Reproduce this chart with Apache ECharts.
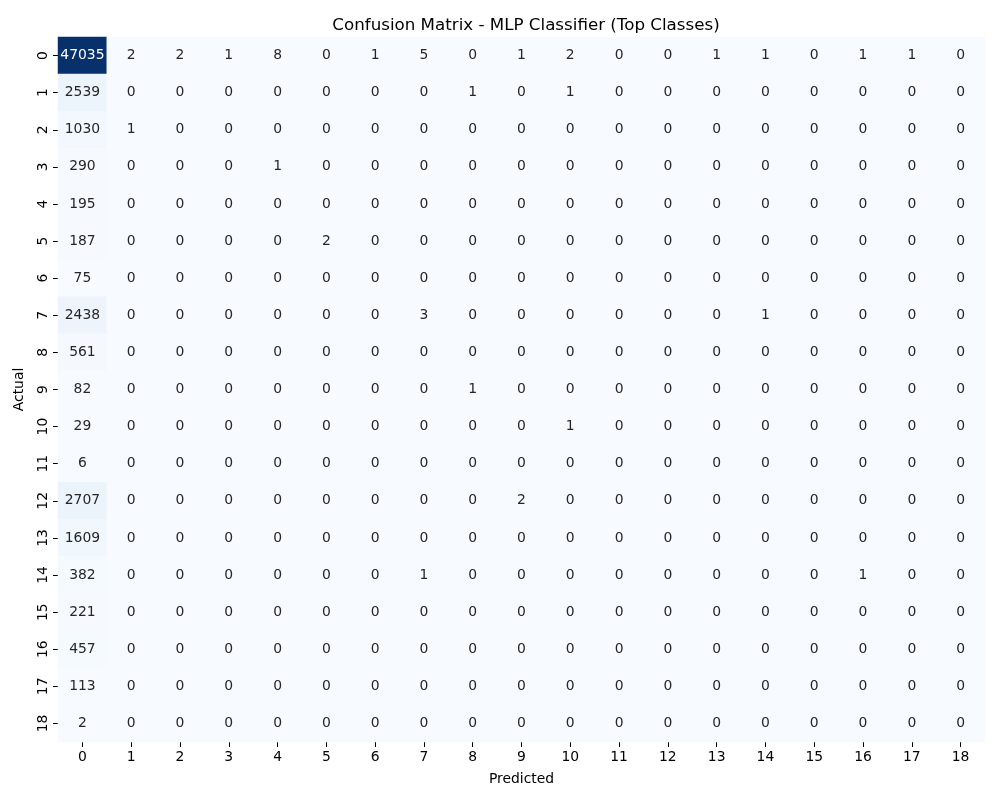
<!DOCTYPE html>
<html>
<head>
<meta charset="utf-8">
<script src="https://cdn.jsdelivr.net/npm/echarts@6/dist/echarts.min.js"></script>
<style>html,body{margin:0;padding:0;background:#fff}#c{width:1000px;height:800px}</style>
</head>
<body>
<div id="c"></div>
<script>
const predictedLabels = ['0','1','2','3','4','5','6','7','8','9','10','11','12','13','14','15','16','17','18'];
const actualLabels = ['0','1','2','3','4','5','6','7','8','9','10','11','12','13','14','15','16','17','18'];
const row0 = [47035,2,2,1,8,0,1,5,0,1,2,0,0,1,1,0,1,1,0];
const row1 = [2539,0,0,0,0,0,0,0,1,0,1,0,0,0,0,0,0,0,0];
const row2 = [1030,1,0,0,0,0,0,0,0,0,0,0,0,0,0,0,0,0,0];
const row3 = [290,0,0,0,1,0,0,0,0,0,0,0,0,0,0,0,0,0,0];
const row4 = [195,0,0,0,0,0,0,0,0,0,0,0,0,0,0,0,0,0,0];
const row5 = [187,0,0,0,0,2,0,0,0,0,0,0,0,0,0,0,0,0,0];
const row6 = [75,0,0,0,0,0,0,0,0,0,0,0,0,0,0,0,0,0,0];
const row7 = [2438,0,0,0,0,0,0,3,0,0,0,0,0,0,1,0,0,0,0];
const row8 = [561,0,0,0,0,0,0,0,0,0,0,0,0,0,0,0,0,0,0];
const row9 = [82,0,0,0,0,0,0,0,1,0,0,0,0,0,0,0,0,0,0];
const row10 = [29,0,0,0,0,0,0,0,0,0,1,0,0,0,0,0,0,0,0];
const row11 = [6,0,0,0,0,0,0,0,0,0,0,0,0,0,0,0,0,0,0];
const row12 = [2707,0,0,0,0,0,0,0,0,2,0,0,0,0,0,0,0,0,0];
const row13 = [1609,0,0,0,0,0,0,0,0,0,0,0,0,0,0,0,0,0,0];
const row14 = [382,0,0,0,0,0,0,1,0,0,0,0,0,0,0,0,1,0,0];
const row15 = [221,0,0,0,0,0,0,0,0,0,0,0,0,0,0,0,0,0,0];
const row16 = [457,0,0,0,0,0,0,0,0,0,0,0,0,0,0,0,0,0,0];
const row17 = [113,0,0,0,0,0,0,0,0,0,0,0,0,0,0,0,0,0,0];
const row18 = [2,0,0,0,0,0,0,0,0,0,0,0,0,0,0,0,0,0,0];
const matrix = [row0,row1,row2,row3,row4,row5,row6,row7,row8,row9,row10,row11,row12,row13,row14,row15,row16,row17,row18];

let maxV = 0;
matrix.forEach(r => r.forEach(v => { if (v > maxV) maxV = v; }));
const data = [];
matrix.forEach((r, yi) => r.forEach((v, xi) => {
  data.push({ value: [xi, yi, v], label: { color: v > maxV * 0.5 ? '#ffffff' : '#262626' } });
}));

const font = 'DejaVu Sans';
const chart = echarts.init(document.getElementById('c'), null, { renderer: 'canvas' });
chart.setOption({
  backgroundColor: '#ffffff',
  animation: false,
  title: {
    text: 'Confusion Matrix - MLP Classifier (Top Classes)',
    left: 521, top: 12, textAlign: 'center',
    textStyle: { fontFamily: font, fontSize: 16.7, fontWeight: 'normal', color: '#000' }
  },
  grid: { left: 58, right: 15, top: 37, bottom: 58 },
  xAxis: {
    type: 'category', data: predictedLabels, position: 'bottom',
    name: 'Predicted', nameLocation: 'middle', nameGap: 30,
    nameTextStyle: { fontFamily: font, fontSize: 13.9, color: '#000' },
    axisLine: { show: false },
    axisTick: { show: true, alignWithLabel: true, length: 5, lineStyle: { color: '#000', width: 1 } },
    axisLabel: { fontFamily: font, fontSize: 13.9, color: '#000', margin: 8 },
    splitLine: { show: false }
  },
  yAxis: {
    type: 'category', data: actualLabels, inverse: true,
    name: 'Actual', nameLocation: 'middle', nameGap: 32, nameRotate: 90,
    nameTextStyle: { fontFamily: font, fontSize: 13.9, color: '#000' },
    axisLine: { show: false },
    axisTick: { show: true, alignWithLabel: true, length: 5, lineStyle: { color: '#000', width: 1 } },
    axisLabel: { fontFamily: font, fontSize: 13.9, color: '#000', rotate: 90, margin: 8 },
    splitLine: { show: false }
  },
  visualMap: {
    show: false, min: 0, max: maxV, dimension: 2,
    inRange: { color: ['#f7fbff','#deebf7','#c6dbef','#9ecae1','#6baed6','#4292c6','#2171b5','#08519c','#08306b'] }
  },
  series: [{
    type: 'heatmap',
    data: data,
    label: { show: true, fontFamily: font, fontSize: 13.9 },
    itemStyle: { borderWidth: 0 },
    emphasis: { disabled: true }
  }]
});
</script>
</body>
</html>
